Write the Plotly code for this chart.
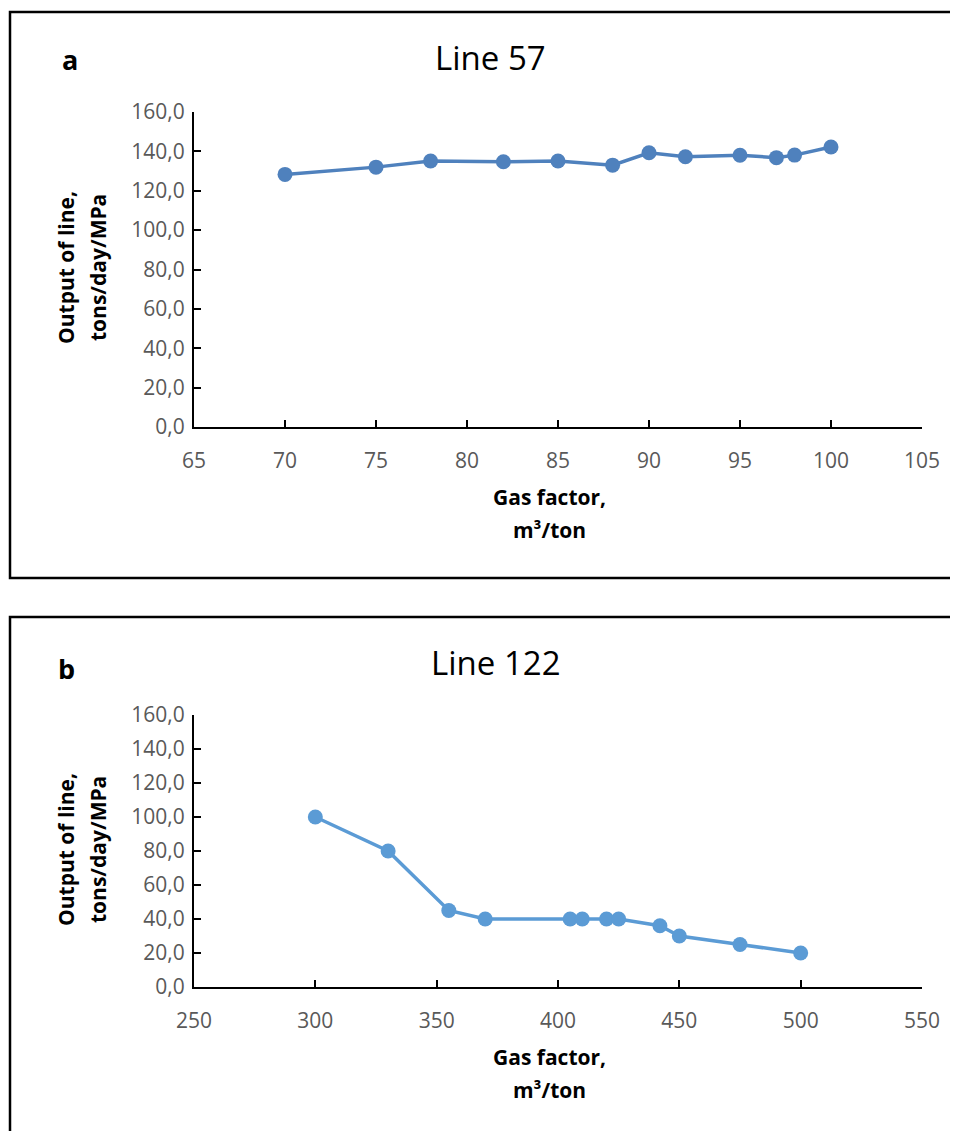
import plotly.graph_objects as go

# Panel a: Line 57
gas_a = [70, 75, 78, 82, 85, 88, 90, 92, 95, 97, 98, 100]
out_a = [128.3, 132.0, 135.1, 134.7, 135.1, 133.0, 139.3, 137.3, 138.0, 136.8, 138.1, 142.2]

# Panel b: Line 122
gas_b = [300, 330, 355, 370, 405, 410, 420, 425, 442, 450, 475, 500]
out_b = [100.0, 80.0, 45.0, 40.0, 40.0, 40.0, 40.0, 40.0, 36.0, 30.0, 25.0, 20.0]

W, H = 958, 1131
OFF = 8  # page body margin
FONT = "Open Sans, Lato, sans-serif"

def px(x):
    return (x - OFF) / W

def py(y):
    return 1 - (y - OFF) / H

fig = go.Figure()
fig.add_trace(go.Scatter(x=gas_a, y=out_a, mode="lines+markers", xaxis="x", yaxis="y",
                         line=dict(color="#4F81BD", width=3.5),
                         marker=dict(color="#4F81BD", size=15), showlegend=False))
fig.add_trace(go.Scatter(x=gas_b, y=out_b, mode="lines+markers", xaxis="x2", yaxis="y2",
                         line=dict(color="#5B9BD5", width=3.5),
                         marker=dict(color="#5B9BD5", size=15), showlegend=False))

tick_font = dict(family=FONT, size=21, color="#595959")
common_x = dict(showgrid=False, zeroline=False, showline=True, linecolor="black", linewidth=2,
                ticks="inside", ticklen=7, tickwidth=1.5, tickcolor="black", tickfont=tick_font,
                ticklabelstandoff=14, automargin=False)
common_y = dict(showgrid=False, zeroline=False, showline=True, linecolor="black", linewidth=2,
                ticks="inside", ticklen=7, tickwidth=1.5, tickcolor="black", tickfont=tick_font,
                range=[0, 160], dtick=20, tickformat=".1f", ticklabelstandoff=3, automargin=False)

xdom = [px(194), px(922)]
fig.update_layout(
    template="none",
    autosize=False,
    width=W, height=H, margin=dict(l=0, r=0, t=0, b=0, pad=0, autoexpand=False),
    paper_bgcolor="white", plot_bgcolor="white",
    separators=", ",
    font=dict(family=FONT),
    xaxis=dict(common_x, domain=xdom, range=[65, 105], dtick=5, anchor="y"),
    yaxis=dict(common_y, domain=[py(427), py(112)], anchor="x"),
    xaxis2=dict(common_x, domain=xdom, range=[250, 550], dtick=50, anchor="y2"),
    yaxis2=dict(common_y, domain=[py(987), py(715)], anchor="x2"),
)

ann = []
def text(x, y, t, size, bold=False, angle=0):
    ann.append(dict(x=px(x), y=py(y), xref="paper", yref="paper", text=t, showarrow=False,
                    xanchor="center", yanchor="middle", textangle=angle,
                    font=dict(family=FONT, size=size, color="black",
                              weight="bold" if bold else "normal")))

text(70, 60, "a", 27, bold=True)
text(491, 57, "Line 57", 33)
text(66, 668, "b", 27, bold=True)
text(496, 662, "Line 122", 33)

# axis titles (two lines each)
text(66, 268, "Output of line,", 21, bold=True, angle=-90)
text(98, 268, "tons/day/MPa", 21, bold=True, angle=-90)
text(549, 497, "Gas factor,", 21, bold=True)
text(549, 530, "m³/ton", 21, bold=True)

text(66, 850, "Output of line,", 21, bold=True, angle=-90)
text(98, 850, "tons/day/MPa", 21, bold=True, angle=-90)
text(549, 1057, "Gas factor,", 21, bold=True)
text(549, 1090, "m³/ton", 21, bold=True)
fig.update_layout(annotations=ann)

shapes = [
    dict(type="rect", xref="paper", yref="paper", x0=px(10), x1=1.05, y0=py(578), y1=py(12),
         line=dict(color="black", width=2.5)),
    dict(type="rect", xref="paper", yref="paper", x0=px(10), x1=1.05, y0=-0.05, y1=py(617),
         line=dict(color="black", width=2.5)),
]
fig.update_layout(shapes=shapes)

fig.write_html("out.html")
